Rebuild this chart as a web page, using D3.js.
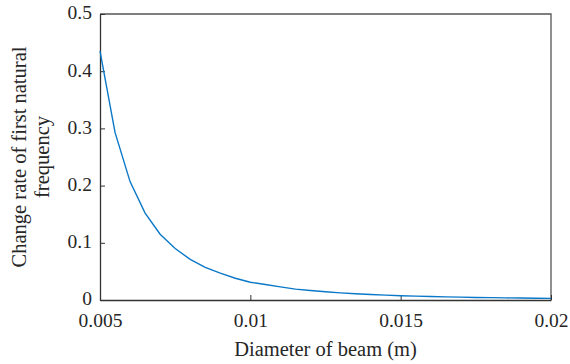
<!DOCTYPE html>
<html>
<head>
<meta charset="utf-8">
<script src="https://cdn.jsdelivr.net/npm/d3@7"></script>
<style>
  body { margin: 0; background: #fff; }
  svg text { font-family: "Liberation Serif", "DejaVu Serif", serif; fill: #262626; }
</style>
</head>
<body>
<svg id="chart" width="570" height="364"></svg>
<script>
// Data
const diameters = [0.005, 0.0055, 0.006, 0.0065, 0.007, 0.0075, 0.008, 0.0085, 0.009, 0.0095,
    0.010, 0.0105, 0.011, 0.0115, 0.012, 0.0125, 0.013, 0.0135, 0.014, 0.0145,
    0.015, 0.0155, 0.016, 0.0165, 0.017, 0.0175, 0.018, 0.0185, 0.019, 0.0195, 0.020];
const changeRates = [0.435, 0.293, 0.207, 0.152, 0.115, 0.090, 0.071, 0.057, 0.047, 0.038,
    0.031, 0.027, 0.023, 0.019, 0.0165, 0.0145, 0.0125, 0.011, 0.0095, 0.0085,
    0.0075, 0.0068, 0.0061, 0.0055, 0.005, 0.0045, 0.0041, 0.0037, 0.0034, 0.0031, 0.0028];
const xTicks = [0.005, 0.01, 0.015, 0.02];
const xTickLabels = ["0.005", "0.01", "0.015", "0.02"];
const yTicks = [0, 0.1, 0.2, 0.3, 0.4, 0.5];
const yTickLabels = ["0", "0.1", "0.2", "0.3", "0.4", "0.5"];

// Layout
const margin = { left: 100, top: 14, right: 19, bottom: 64 };
const svg = d3.select('#chart');
const W = +svg.attr('width'), H = +svg.attr('height');
const w = W - margin.left - margin.right;
const h = H - margin.top - margin.bottom;

const x = d3.scaleLinear().domain([0.005, 0.02]).range([0, w]);
const y = d3.scaleLinear().domain([0, 0.5]).range([h, 0]);

const g = svg.append('g').attr('transform', `translate(${margin.left},${margin.top})`);

// Box (top / right)
g.append('path')
    .attr('d', `M0,0H${w}V${h}`)
    .attr('fill', 'none')
    .attr('stroke', '#555')
    .attr('stroke-width', 1.3);

// Axes with inward ticks
const xAxis = d3.axisBottom(x).tickValues(xTicks)
    .tickFormat((d, i) => xTickLabels[i]).tickSizeInner(-5).tickSizeOuter(0).tickPadding(9);
const yAxis = d3.axisLeft(y).tickValues(yTicks)
    .tickFormat((d, i) => yTickLabels[i]).tickSizeInner(-5).tickSizeOuter(0).tickPadding(9);

const gx = g.append('g').attr('transform', `translate(0,${h})`).call(xAxis);
const gy = g.append('g').call(yAxis);

[gx, gy].forEach(a => {
    a.select('.domain').attr('stroke', '#333').attr('stroke-width', 1.3);
    a.selectAll('.tick line').attr('stroke', '#333').attr('stroke-width', 1);
    a.selectAll('.tick text').style('font-size', '19.5px').attr('fill', '#262626');
});
gx.selectAll('.tick text').attr('dy', '0.91em');
gy.selectAll('.tick text').attr('dx', '0.05em').attr('dy', '0.25em');

// Curve
const line = d3.line()
    .x((d, i) => x(diameters[i]))
    .y(d => y(d));

g.append('path')
    .datum(changeRates)
    .attr('fill', 'none')
    .attr('stroke', '#0a78c8')
    .attr('stroke-width', 1.4)
    .attr('d', line);

// Axis titles
svg.append('text')
    .attr('x', margin.left + w / 2)
    .attr('y', 356)
    .attr('text-anchor', 'middle')
    .style('font-size', '20.5px')
    .text('Diameter of beam (m)');

const yTitle = svg.append('text')
    .attr('transform', `translate(26,${margin.top + h / 2}) rotate(-90)`)
    .attr('text-anchor', 'middle')
    .style('font-size', '20.5px');
yTitle.append('tspan').attr('x', 0).attr('dy', 0).text('Change rate of first natural');
yTitle.append('tspan').attr('x', 0).attr('dy', '1.1em').text('frequency');
</script>
</body>
</html>
